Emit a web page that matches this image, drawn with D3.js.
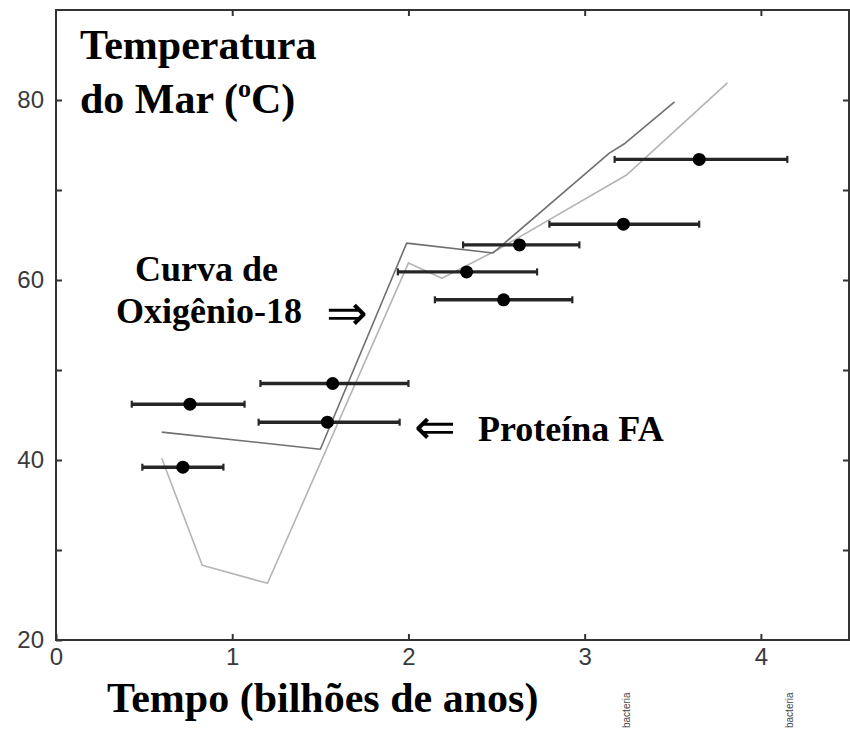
<!DOCTYPE html>
<html>
<head>
<meta charset="utf-8">
<script src="https://cdn.jsdelivr.net/npm/d3@7"></script>
<style>
  html, body { margin: 0; padding: 0; background: #fff; }
  svg { display: block; }
</style>
</head>
<body>
<svg id="chart" width="850" height="729"></svg>
<script>
// Protein FA temperature estimates: age (billion years), temperature, interval bounds
const pointAge   = [0.76, 0.72, 1.57, 1.54, 2.33, 2.63, 2.54, 3.22, 3.65];
const pointTemp  = [46.2, 39.2, 48.5, 44.2, 60.9, 63.9, 57.8, 66.2, 73.4];
const pointLow   = [0.43, 0.49, 1.16, 1.15, 1.94, 2.31, 2.15, 2.80, 3.17];
const pointHigh  = [1.07, 0.95, 2.00, 1.95, 2.73, 2.97, 2.93, 3.65, 4.15];

// Oxygen-18 temperature curves (upper and lower)
const upperAge  = [0.60, 1.50, 1.99, 2.48, 3.14, 3.23, 3.51];
const upperTemp = [43.1, 41.2, 64.1, 63.0, 74.1, 75.2, 79.8];
const lowerAge  = [0.60, 0.83, 1.20, 2.00, 2.19, 2.50, 3.24, 3.81];
const lowerTemp = [40.2, 28.3, 26.3, 61.9, 60.2, 63.3, 71.7, 81.9];

const xTicks = [0, 1, 2, 3, 4];
const yTicks = [20, 30, 40, 50, 60, 70, 80];
const yLabels = [20, 40, 60, 80];
const sideLabels = ["bacteria", "bacteria"];
const sideLabelAge = [3.24, 4.16];

const svg = d3.select("#chart");
const x = d3.scaleLinear().domain([0, 4.5]).range([56, 849]);
const y = d3.scaleLinear().domain([20, 90]).range([640, 10]);

const axisColor = "#333";

// frame
svg.append("rect")
  .attr("x", x(0)).attr("y", y(90))
  .attr("width", x(4.5) - x(0)).attr("height", y(20) - y(90))
  .attr("fill", "none").attr("stroke", axisColor).attr("stroke-width", 2);

function styleAxis(g) {
  g.select(".domain").remove();
  g.selectAll(".tick line").attr("stroke", axisColor).attr("stroke-width", 2);
  g.selectAll("text")
    .attr("fill", "#3a3a3a")
    .style("font-family", "'Liberation Sans', Arial, sans-serif")
    .style("font-size", "24px");
}

// bottom axis, ticks pointing inward
svg.append("g").attr("transform", `translate(0,${y(20)})`)
  .call(d3.axisBottom(x).tickValues(xTicks).tickSizeInner(-6).tickSizeOuter(0).tickPadding(8)
        .tickFormat(d3.format("d")))
  .call(styleAxis);

// top axis, ticks only
svg.append("g").attr("transform", `translate(0,${y(90)})`)
  .call(d3.axisTop(x).tickValues(xTicks.slice(1)).tickSizeInner(-6).tickSizeOuter(0).tickFormat(""))
  .call(styleAxis);

// left axis
svg.append("g").attr("transform", `translate(${x(0)},0)`)
  .call(d3.axisLeft(y).tickValues(yTicks).tickSizeInner(-6).tickSizeOuter(0).tickPadding(12)
        .tickFormat(d => yLabels.includes(d) ? d : ""))
  .call(styleAxis);

// right axis, ticks only
svg.append("g").attr("transform", `translate(${x(4.5)},0)`)
  .call(d3.axisRight(y).tickValues(yTicks.slice(1)).tickSizeInner(-6).tickSizeOuter(0).tickFormat(""))
  .call(styleAxis);

// oxygen-18 curves
const line = d3.line().x(d => x(d[0])).y(d => y(d[1]));
svg.append("path")
  .datum(lowerAge.map((a, i) => [a, lowerTemp[i]]))
  .attr("d", line).attr("fill", "none")
  .attr("stroke", "#b4b4b4").attr("stroke-width", 1.6).attr("stroke-linejoin", "round");
svg.append("path")
  .datum(upperAge.map((a, i) => [a, upperTemp[i]]))
  .attr("d", line).attr("fill", "none")
  .attr("stroke", "#707070").attr("stroke-width", 1.6).attr("stroke-linejoin", "round");

// protein FA estimates with age intervals
const pts = pointAge.map((a, i) => ({ a, t: pointTemp[i], lo: pointLow[i], hi: pointHigh[i] }));
const bars = svg.append("g");
bars.selectAll("line.bar").data(pts).join("line")
  .attr("class", "bar")
  .attr("x1", d => x(d.lo)).attr("x2", d => x(d.hi))
  .attr("y1", d => y(d.t)).attr("y2", d => y(d.t))
  .attr("stroke", "#262626").attr("stroke-width", 3.4);
bars.selectAll("line.capL").data(pts).join("line")
  .attr("class", "capL")
  .attr("x1", d => x(d.lo)).attr("x2", d => x(d.lo))
  .attr("y1", d => y(d.t) - 3.5).attr("y2", d => y(d.t) + 3.5)
  .attr("stroke", "#262626").attr("stroke-width", 2.2);
bars.selectAll("line.capR").data(pts).join("line")
  .attr("class", "capR")
  .attr("x1", d => x(d.hi)).attr("x2", d => x(d.hi))
  .attr("y1", d => y(d.t) - 3.5).attr("y2", d => y(d.t) + 3.5)
  .attr("stroke", "#262626").attr("stroke-width", 2.2);
bars.selectAll("circle").data(pts).join("circle")
  .attr("cx", d => x(d.a)).attr("cy", d => y(d.t)).attr("r", 6.5)
  .attr("fill", "#000");

// annotations
const serif = "'Liberation Serif', 'Times New Roman', serif";
function label(txt, px, py, size, weight = "bold") {
  return svg.append("text").attr("x", px).attr("y", py)
    .attr("font-family", serif).attr("font-weight", weight)
    .attr("font-size", size).attr("fill", "#000").text(txt);
}
label("Temperatura", 80, 59, 42);
const t2 = label("do Mar (", 80, 113, 42);
t2.append("tspan").attr("font-size", 26).attr("dy", -16).text("o");
t2.append("tspan").attr("dy", 16).text("C)");

label("Curva de", 135, 281, 36);
label("Oxigênio-18", 116, 323, 36);
label("⇒", 326, 330, 50, "normal");
label("⇐", 414, 444, 50, "normal");
label("Proteína FA", 478, 441, 36);

label("Tempo (bilhões de anos)", 107, 712, 42);

// small rotated tags beneath the time axis
sideLabels.forEach((s, i) => {
  svg.append("text")
    .attr("transform", `translate(${x(sideLabelAge[i])},728) rotate(-90)`)
    .attr("font-family", "'Liberation Sans', Arial, sans-serif")
    .attr("font-size", 10).attr("fill", "#444")
    .attr("dy", "0.35em")
    .text(s);
});
</script>
</body>
</html>
